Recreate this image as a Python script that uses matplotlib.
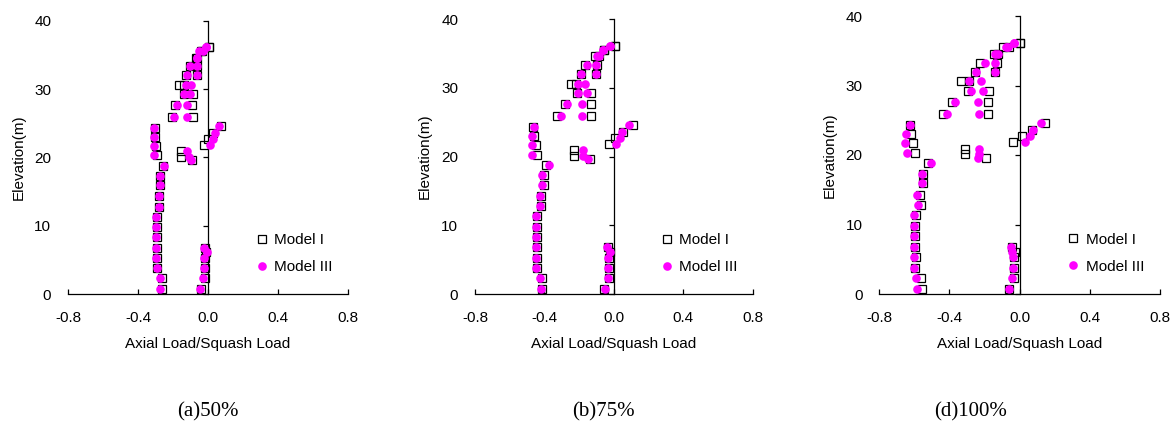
import matplotlib
matplotlib.use("Agg")
import matplotlib.pyplot as plt
from matplotlib.ticker import FormatStrFormatter

plt.rcParams['font.family'] = ['Liberation Sans', 'DejaVu Sans']
plt.rcParams['axes.unicode_minus'] = False

# ---------------- data ----------------
# elevation (m) of every plotted point: upper branch A, upper branch B,
# left column, inner middle column, right upper group, right lower group
elevation = [36.1, 35.5, 34.6, 33.3, 32.0, 30.6, 29.2, 27.6, 25.9,
             36.1, 35.5, 34.6, 33.3, 32.0, 30.6, 29.2, 27.6, 25.9,
             24.3, 23.0, 21.7, 20.3, 18.8, 17.3, 15.9, 14.3, 12.8, 11.3, 9.8, 8.3, 6.8, 5.3, 3.8, 2.3, 0.75,
             20.9, 20.1, 19.6,
             24.6, 23.6, 22.7, 21.8,
             6.8, 6.1, 5.3, 3.8, 2.3, 0.75]

# 50 %
m1_50 = [0.005, -0.04, -0.07, -0.105, -0.123, -0.167, -0.137, -0.188, -0.207,
         0.005, -0.035, -0.065, -0.063, -0.063, -0.139, -0.086, -0.091, -0.086,
         -0.305, -0.305, -0.297, -0.291, -0.257, -0.272, -0.272, -0.278, -0.278, -0.291, -0.291, -0.291, -0.291, -0.291, -0.291, -0.264, -0.264,
         -0.152, -0.152, -0.091,
         0.076, 0.030, 0.002, -0.021,
         -0.015, -0.009, -0.015, -0.015, -0.015, -0.038]
m3_50 = [-0.01, -0.05, -0.065, -0.105, -0.118, -0.123, -0.137, -0.175, -0.196,
         -0.01, -0.03, -0.065, -0.063, -0.063, -0.100, -0.105, -0.118, -0.118,
         -0.309, -0.310, -0.310, -0.310, -0.251, -0.276, -0.276, -0.282, -0.282, -0.299, -0.299, -0.299, -0.299, -0.299, -0.291, -0.272, -0.272,
         -0.118, -0.110, -0.095,
         0.061, 0.040, 0.030, 0.011,
         -0.023, -0.003, -0.023, -0.023, -0.029, -0.043]

# 75 %
m1_75 = [0.004, -0.054, -0.110, -0.167, -0.188, -0.248, -0.211, -0.284, -0.327,
         0.004, -0.054, -0.088, -0.098, -0.102, -0.220, -0.131, -0.134, -0.134,
         -0.467, -0.461, -0.448, -0.442, -0.390, -0.405, -0.405, -0.419, -0.419, -0.442, -0.442, -0.442, -0.442, -0.442, -0.442, -0.413, -0.413,
         -0.230, -0.230, -0.136,
         0.109, 0.052, 0.008, -0.029,
         -0.033, -0.021, -0.029, -0.029, -0.029, -0.054]
m3_75 = [-0.025, -0.060, -0.098, -0.154, -0.188, -0.209, -0.209, -0.269, -0.305,
         -0.025, -0.060, -0.088, -0.102, -0.102, -0.165, -0.154, -0.181, -0.181,
         -0.461, -0.474, -0.474, -0.469, -0.373, -0.413, -0.413, -0.425, -0.425, -0.448, -0.448, -0.448, -0.448, -0.448, -0.448, -0.425, -0.420,
         -0.180, -0.180, -0.148,
         0.090, 0.048, 0.038, 0.013,
         -0.040, -0.025, -0.033, -0.035, -0.035, -0.050]

# 100 %
m1_100 = [0.000, -0.097, -0.144, -0.224, -0.257, -0.333, -0.295, -0.384, -0.437,
          0.000, -0.063, -0.124, -0.127, -0.139, -0.287, -0.175, -0.183, -0.183,
          -0.627, -0.618, -0.606, -0.595, -0.523, -0.553, -0.553, -0.570, -0.565, -0.591, -0.595, -0.595, -0.595, -0.591, -0.598, -0.565, -0.557,
          -0.314, -0.314, -0.190,
          0.143, 0.070, 0.013, -0.038,
          -0.044, -0.029, -0.034, -0.034, -0.034, -0.059]
m3_100 = [-0.034, -0.078, -0.139, -0.200, -0.249, -0.287, -0.278, -0.369, -0.414,
          -0.034, -0.067, -0.124, -0.139, -0.139, -0.219, -0.211, -0.238, -0.232,
          -0.627, -0.650, -0.656, -0.640, -0.504, -0.557, -0.557, -0.587, -0.580, -0.605, -0.600, -0.605, -0.605, -0.605, -0.605, -0.591, -0.586,
          -0.232, -0.232, -0.238,
          0.124, 0.076, 0.061, 0.029,
          -0.051, -0.044, -0.038, -0.038, -0.044, -0.063]

captions = ["(a)50%", "(b)75%", "(d)100%"]
series_names = ["Model I", "Model III"]
x_ticks = [-0.8, -0.4, 0.0, 0.4, 0.8]
y_ticks = [0, 10, 20, 30, 40]

panels = [(m1_50, m3_50), (m1_75, m3_75), (m1_100, m3_100)]

# ---------------- layout ----------------
W, H = 1175, 426
fig = plt.figure(figsize=(W / 100, H / 100), dpi=100)

# axes boxes in pixels: left, right, top, bottom
boxes = [(68, 348, 20.7, 294), (475, 752.7, 19.3, 294), (879.3, 1160, 16, 294)]
ylabel_x = [19, 425, 830]
caption_x = [208, 603, 971]

for i, ((m1, m3), (l, r, t, b)) in enumerate(zip(panels, boxes)):
    ax = fig.add_axes([l / W, (H - b) / H, (r - l) / W, (b - t) / H])
    ax.plot(m1, elevation, ls='none', marker='s', ms=5.6, mfc='none',
            mec='black', mew=0.9, label=series_names[0], clip_on=False)
    ax.plot(m3, elevation, ls='none', marker='o', ms=6.2, mfc='#FF00FF',
            mec='#FF00FF', mew=0, label=series_names[1], clip_on=False)

    ax.set_xlim(-0.8, 0.8)
    ax.set_ylim(0, 40)
    ax.set_xticks(x_ticks)
    ax.xaxis.set_major_formatter(FormatStrFormatter('%.1f'))
    ax.set_yticks(y_ticks)

    for s in ['top', 'right', 'left']:
        ax.spines[s].set_visible(False)
    ax.spines['bottom'].set_linewidth(0.9)
    ax.tick_params(axis='x', direction='in', length=3.5, width=0.9,
                   pad=12.5, labelsize=11)
    ax.tick_params(axis='y', length=0, pad=12, labelsize=11)

    sec = ax.secondary_yaxis(0.5)
    sec.set_alignment('left')
    sec.set_yticks(y_ticks)
    sec.tick_params(axis='y', direction='out', length=3.5, width=0.9,
                    labelleft=False, labelright=False)
    for sp in sec.spines.values():
        sp.set_linewidth(0.9)

    ax.set_xlabel("Axial Load/Squash Load", fontsize=11, va='center')
    ax.xaxis.set_label_coords(0.5, -(344 - b) / (b - t))
    ax.set_ylabel("Elevation(m)", fontsize=11, va='center')
    ax.yaxis.set_label_coords(-(l - ylabel_x[i]) / (r - l), 0.5)

    ax.legend(loc='center left', bbox_to_anchor=(0.67, 0.147), frameon=False,
              fontsize=11, handlelength=0.8, handletextpad=0.4,
              labelspacing=0.85, borderpad=0, borderaxespad=0)

    fig.text(caption_x[i] / W, (H - 412) / H, captions[i], ha='center',
             va='center', fontsize=15, family=['Liberation Serif', 'DejaVu Serif'])

fig.savefig("out.png", dpi=100)
